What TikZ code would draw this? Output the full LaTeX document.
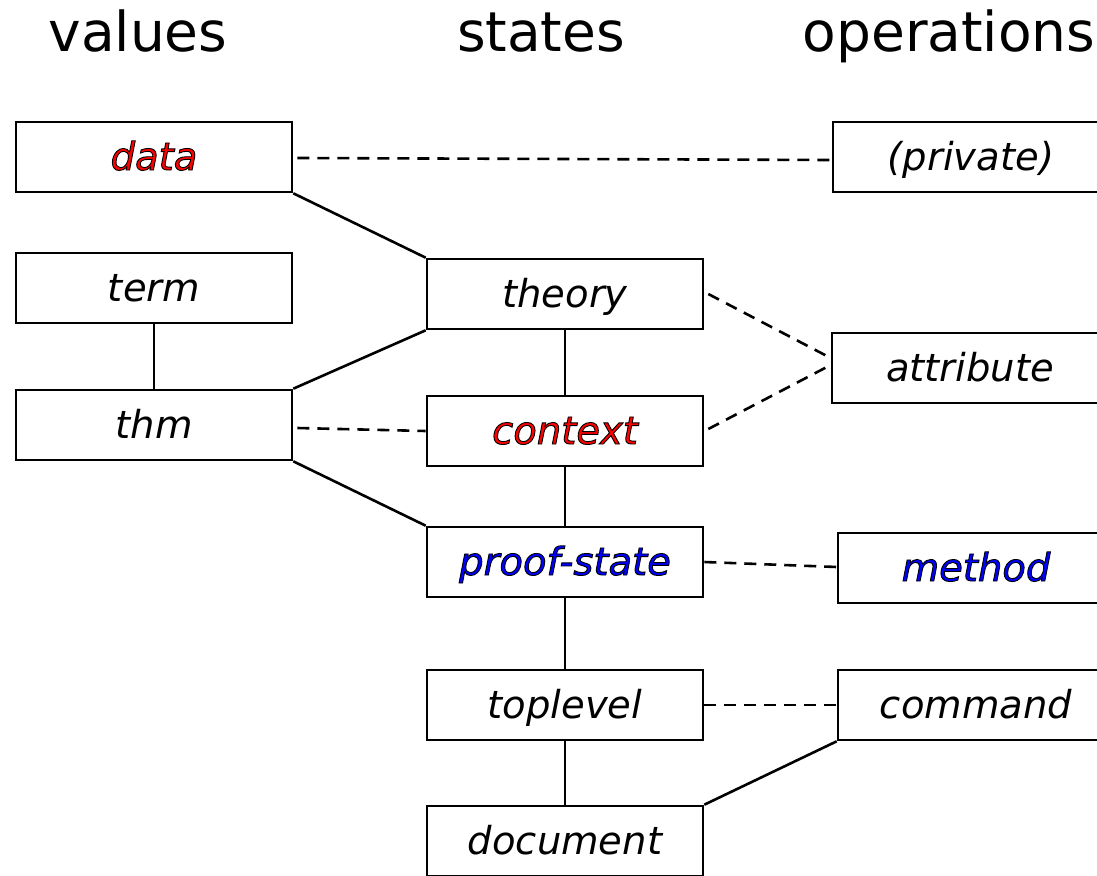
\documentclass[tikz,border=0pt]{standalone}
\usepackage{fontspec}
\setmainfont{DejaVu Sans}
\usetikzlibrary{calc}
\usepackage{xcolor}

% outlined coloured label
\newcommand{\hilite}[2]{\textcolor{#1}{\special{pdf:literal 2 Tr 0 G 0.9 w}#2\special{pdf:literal 0 Tr}}}

\tikzset{
  box/.style={draw, line width=2.6pt, minimum width=276pt, minimum height=70pt, inner sep=0pt,
    text height=32pt, text depth=6pt, font=\fontsize{38.5}{42}\selectfont\itshape},
  hdr/.style={anchor=base, font=\fontsize{55}{60}\selectfont},
  link/.style={line width=2.6pt},
  dlink/.style={line width=2.6pt, dash pattern=on 12pt off 8pt},
}

\begin{document}
\begin{tikzpicture}[x=1pt,y=-1pt]
\useasboundingbox (0,0) rectangle (1097,875);
% column heads
\node[hdr] (hv) at (138,52) {values};
\node[hdr] (hs) at (541,52) {states};
\node[hdr] (ho) at (949,52) {operations};
% values
\node[box] (data) at (154,157) {\hilite{red}{data}};
\node[box] (term) at (154,288) {term};
\node[box] (thm) at (154,425) {thm};
% states
\node[box] (theory) at (565,294) {theory};
\node[box] (context) at (565,431) {\hilite{red}{context}};
\node[box] (proof) at (565,562) {\hilite{blue}{proof-state}};
\node[box] (toplevel) at (565,705) {toplevel};
\node[box] (document) at (565,841) {document};
% operations
\node[box] (private) at (971,157) {(private)};
\node[box] (attribute) at (970,368) {attribute};
\node[box] (method) at (976,568) {\hilite{blue}{method}};
\node[box] (command) at (976,705) {command};
% solid links
\draw[link] (data.south east) -- (theory.north west);
\draw[link] (term) -- (thm);
\draw[link] (thm.north east) -- (theory.south west);
\draw[link] (thm.south east) -- (proof.north west);
\draw[link] (theory) -- (context);
\draw[link] (context) -- (proof);
\draw[link] (proof) -- (toplevel);
\draw[link] (toplevel) -- (document);
\draw[link] (document.north east) -- (command.south west);
% dashed links
\draw[dlink] ($(data.east)+(4,1)$) -- ($(private.west)+(0,3)$);
\draw[dlink] ($(thm.east)+(4,3)$) -- (context.west);
\draw[dlink] ($(theory.east)+(4,0)$) -- ($(attribute.west)+(0,-10)$);
\draw[dlink] ($(context.east)+(4,-2)$) -- ($(attribute.west)+(0,-3)$);
\draw[dlink] (proof.east) -- ($(method.west)+(0,-1)$);
\draw[dlink] (toplevel.east) -- (command.west);
\end{tikzpicture}
\end{document}
